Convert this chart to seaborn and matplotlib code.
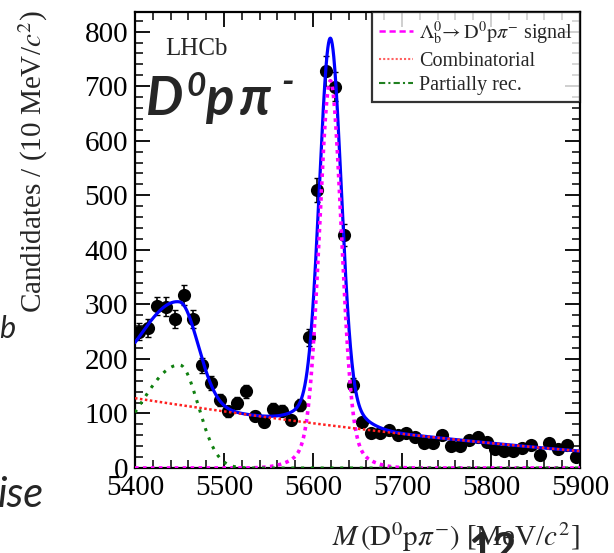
import numpy as np
import pandas as pd
import matplotlib
matplotlib.use("Agg")
import matplotlib.pyplot as plt
import seaborn as sns
from matplotlib.lines import Line2D
from matplotlib.ticker import MultipleLocator

# ---------------- data ----------------
bin_centres = np.arange(5405, 5900, 10)
counts = [250, 257, 297, 296, 273, 317, 273, 188, 156, 124,
          104, 119, 141, 95, 85, 108, 105, 88, 116, 240,
          510, 728, 699, 427, 152, 85, 64, 64, 69, 60,
          64, 56, 46, 46, 60, 41, 41, 51, 56, 48,
          34, 31, 31, 36, 42, 24, 46, 35, 42, 20]

# fit-model parameters
sig_mean = 5619.5
sig_amp = [660, 50]
sig_width = [12.0, 28.0]
comb_coef = [128, -127, 30]          # quadratic in (m-5400)/500
part_peak, part_amp = 5450, 189
part_sigma_left, part_sigma_right = 45, 21

x_ticks = [5400, 5500, 5600, 5700, 5800, 5900]
y_ticks = [0, 100, 200, 300, 400, 500, 600, 700, 800]

# ---------------- model curves ----------------
m = np.linspace(5400, 5900, 1201)
signal = sum(a * np.exp(-0.5 * ((m - sig_mean) / s) ** 2) for a, s in zip(sig_amp, sig_width))
t = (m - 5400) / 500
comb = comb_coef[0] + comb_coef[1] * t + comb_coef[2] * t ** 2
sig_p = np.where(m < part_peak, part_sigma_left, part_sigma_right)
partial = part_amp * np.exp(-0.5 * ((m - part_peak) / sig_p) ** 2)
total = signal + comb + partial

df_pts = pd.DataFrame({"mass": bin_centres, "counts": counts})
df_pts["err"] = np.sqrt(df_pts["counts"])
df_curves = pd.DataFrame({"m": m, "total": total, "signal": signal,
                          "comb": comb, "partial": partial})

# ---------------- style ----------------
sns.set_theme(style="ticks")
plt.rcParams["font.family"] = ["Liberation Serif", "DejaVu Serif"]
plt.rcParams["mathtext.fontset"] = "stix"

W, H = 614, 553
AX_L, AX_T, AX_W, AX_H = 135, 12, 445, 456
fig = plt.figure(figsize=(W / 100, H / 100), dpi=100)
ax = fig.add_axes([AX_L / W, 1 - (AX_T + AX_H) / H, AX_W / W, AX_H / H])

# data points
ax.errorbar(df_pts["mass"], df_pts["counts"], yerr=df_pts["err"], fmt="none",
            ecolor="black", elinewidth=1.2, capsize=2.5, capthick=1.0, zorder=3)
sns.scatterplot(data=df_pts, x="mass", y="counts", ax=ax, color="black",
                s=90, edgecolor="black", linewidth=0, zorder=4, legend=False)

# fit curves
sns.lineplot(data=df_curves, x="m", y="total", ax=ax, color="#0000ff", lw=2.3, zorder=5)
ax.plot(df_curves["m"], df_curves["signal"], color="#ff00ff", lw=2.6,
        ls=(0, (1.0, 1.2)), zorder=6)
ax.plot(df_curves["m"], df_curves["comb"], color="#ff2020", lw=1.8,
        ls=(0, (1.0, 1.0)), zorder=6)
ax.plot(df_curves["m"], df_curves["partial"], color="#108010", lw=2.2,
        ls=(0, (1.0, 2.2)), zorder=6)

ax.set_xlim(5400, 5900)
ax.set_ylim(0, 836)
ax.set_xticks(x_ticks)
ax.set_yticks(y_ticks)
ax.xaxis.set_minor_locator(MultipleLocator(20))
ax.yaxis.set_minor_locator(MultipleLocator(20))
ax.tick_params(which="both", direction="in", top=True, right=True, colors="black",
               labelsize=21, pad=5)
ax.tick_params(which="major", length=11, width=1.3)
ax.tick_params(which="minor", length=5.5, width=1.1)
for sp in ax.spines.values():
    sp.set_linewidth(1.6)
    sp.set_color("black")
ax.set_xlabel("")
ax.set_ylabel("")

# legend
handles = [Line2D([], [], color="#ff00ff", lw=1.8, ls=(0, (2.5, 1.5))),
           Line2D([], [], color="#ff6060", lw=1.5, ls=(0, (1, 1))),
           Line2D([], [], color="#208020", lw=1.5, ls=(0, (3, 1.5, 1, 1.5)))]
labels = [r"$\Lambda_{\rm b}^{0}\!\rightarrow {\rm D^{0}p}\pi^{-}$ signal",
          "Combinatorial", "Partially rec."]
leg = ax.legend(handles, labels, loc="upper right", bbox_to_anchor=(1.0, 1.0),
                borderaxespad=0, frameon=True, fancybox=False, fontsize=14.5,
                handlelength=1.7, handletextpad=0.3, labelspacing=0.25,
                borderpad=0.35)
leg.get_frame().set_edgecolor("black")
leg.get_frame().set_linewidth(1.6)

# labels
ax.text((165 - AX_L) / AX_W, 1 - (55 - AX_T) / AX_H, "LHCb", transform=ax.transAxes,
        fontsize=18, ha="left", va="baseline")
fig.text(33 / W, 1 - 10 / H, r"Candidates / (10 MeV/$c^{2}$)", rotation=90,
         ha="center", va="top", fontsize=21)
fig.text(580 / W, 1 - 537 / H, r"$M\,({\rm D^{0}p}\pi^{-})$ [MeV/$c^{2}$]",
         ha="right", va="center", fontsize=21)

# slide overlay text
sans = ["Lato", "Open Sans", "DejaVu Sans"]
def ftext(px, py, s, size, **kw):
    fig.text(px / W, 1 - py / H, s, fontsize=size, family=sans,
             fontweight="bold", fontstyle="italic", va="baseline", ha="left", **kw)

ftext(146, 115, "D", 38)
ftext(186, 96, "0", 24)
ftext(205, 115, "p", 38)
ftext(240, 115, "\u03c0", 38)
ftext(281, 93, "-", 26)

fig.text(-0.002, 1 - 338 / H, "b", fontsize=22, family=sans, fontstyle="italic",
         ha="left", va="baseline")
fig.text(-0.004, 1 - 507 / H, "ise", fontsize=30, family=sans, fontstyle="italic",
         ha="left", va="baseline")
fig.text(492 / W, 1 - 532 / H, "12", fontsize=30, family=sans, fontweight="bold",
         ha="center", va="top")

fig.savefig("out.png", dpi=100)
